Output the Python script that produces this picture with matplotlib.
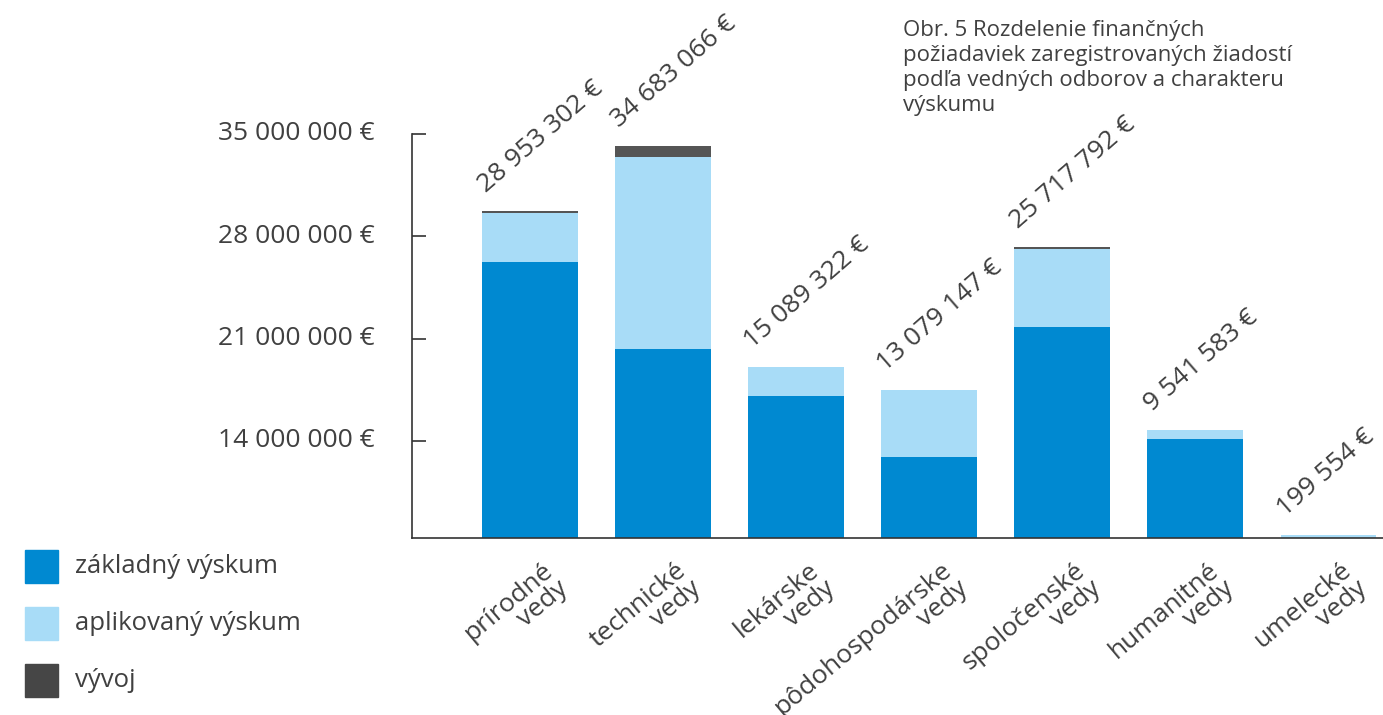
import matplotlib.pyplot as plt
from matplotlib.patches import Rectangle
import matplotlib.transforms as mtransforms
import numpy as np

# values (EUR, millions for segments)
categories = ['prírodné\nvedy', 'technické\nvedy', 'lekárske\nvedy',
              'pôdohospodárske\nvedy', 'spoločenské\nvedy', 'humanitné\nvedy',
              'umelecké\nvedy']
zakladny = [24.43, 16.70, 12.58, 7.16, 18.67, 8.74, 0.0]
aplikovany = [4.34, 17.04, 2.51, 5.92, 6.85, 0.80, 0.20]
vyvoj = [0.18, 0.94, 0.0, 0.0, 0.20, 0.0, 0.0]
totals = [28953302, 34683066, 15089322, 13079147, 25717792, 9541583, 199554]

series_names = ['základný výskum', 'aplikovaný výskum', 'vývoj']

# axis ticks as printed on the original (positions as drawn there)
tick_pos = [8.55e6, 17.62e6, 26.68e6, 35.75e6]
tick_labels = ['14 000 000 €', '21 000 000 €', '28 000 000 €', '35 000 000 €']

title = ('Obr. 5 Rozdelenie finančných\npožiadaviek zaregistrovaných žiadostí\n'
         'podľa vedných odborov a charakteru\nvýskumu')

c_dark = '#0089D1'
c_light = '#A8DCF7'
c_dev = '#555555'
c_text = '#404040'

plt.rcParams['font.family'] = ['Open Sans', 'DejaVu Sans']

fig = plt.figure(figsize=(13.83, 7.15), dpi=100)
ax = fig.add_axes([412 / 1383, (715 - 537.5) / 715, 1 - 412 / 1383, (537.5 - 134) / 715])

x = np.arange(len(categories))
w = 0.72
z = np.array(zakladny) * 1e6
a = np.array(aplikovany) * 1e6
v = np.array(vyvoj) * 1e6

ax.bar(x, z, w, color=c_dark)
ax.bar(x, a, w, bottom=z, color=c_light)
ax.bar(x, v, w, bottom=z + a, color=c_dev)

ax.set_xlim(-0.885, 6.41)
ax.set_ylim(0, 35.75e6)

for s in ['top', 'right']:
    ax.spines[s].set_visible(False)
for s in ['left', 'bottom']:
    ax.spines[s].set_color('#333333')
    ax.spines[s].set_linewidth(1.2)

ax.set_xticks([])
ax.set_yticks(tick_pos)
ax.set_yticklabels(tick_labels, fontsize=19, color=c_text)
ax.tick_params(axis='y', direction='in', length=10, width=1.2, color='#333333', pad=27)
up = mtransforms.ScaledTranslation(0, 3 / 100, fig.dpi_scale_trans)
for lab in ax.get_yticklabels():
    lab.set_transform(lab.get_transform() + up)

# totals above the bars
for i, t in enumerate(totals):
    label = f'{t:,}'.replace(',', ' ') + ' €'
    ax.annotate(label, (x[i] - w / 2, (z + a + v)[i]), xytext=(3, 13),
                textcoords='offset points', rotation=41, rotation_mode='anchor',
                ha='left', va='baseline', fontsize=19, color=c_text,
                annotation_clip=False)

# category labels under the axis
trans = mtransforms.blended_transform_factory(ax.transData, ax.transAxes)
for i, c in enumerate(categories):
    ax.text(x[i] + 0.09, -0.05, c, transform=trans, rotation=40,
            rotation_mode='anchor', ha='right', va='top', fontsize=19,
            color=c_text, linespacing=0.95, multialignment='right')

# legend
leg_colors = [c_dark, c_light, '#464646']
for i, (name, col) in enumerate(zip(series_names, leg_colors)):
    top = 550 + i * 57
    fig.add_artist(Rectangle((25 / 1383, (715 - top - 33) / 715), 33 / 1383, 33 / 715,
                             transform=fig.transFigure, color=col))
    fig.text(75 / 1383, (715 - top - 16.5) / 715, name, fontsize=18.5,
             color=c_text, va='center', ha='left')

fig.text(903 / 1383, (715 - 20) / 715, title, fontsize=16, color=c_text,
         va='top', ha='left', linespacing=1.26)

fig.savefig('out.png', dpi=100)
